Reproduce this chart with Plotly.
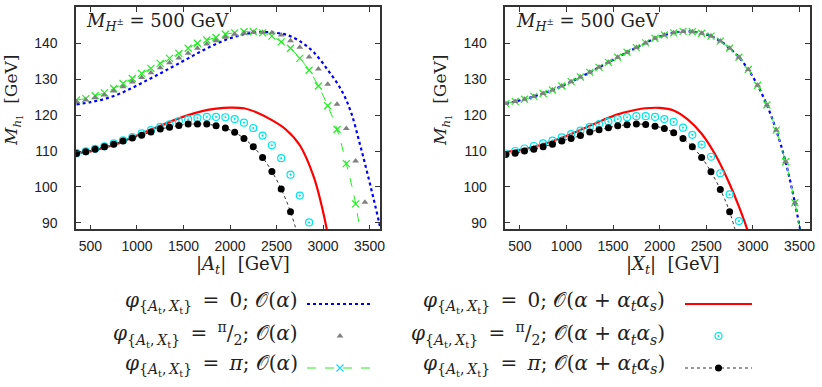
import plotly.graph_objects as go

# ---- data ----
# left panel: versus |A_t|
GRID_AT = [350, 450, 550, 650, 750, 850, 950, 1050, 1150, 1250, 1350, 1450, 1550, 1650, 1750, 1850,
           1950, 2050, 2150, 2250, 2350, 2450, 2550, 2650, 2750, 2850, 2950, 3050, 3150, 3250, 3350, 3450]

at_pi_oa = [124.2, 124.6, 125.4, 126.2, 127.4, 128.8, 130.2, 131.6, 133.0, 134.4, 135.8, 137.2, 138.6, 140.0,
            140.9, 141.6, 142.5, 142.9, 143.2, 143.2, 142.9, 142.0, 140.4, 138.6, 135.8, 132.5, 128.1, 122.6,
            116.0, 106.5, 95.3, 78.0]
at_half_oa = [123.7, 124.2, 124.8, 125.6, 126.7, 127.9, 129.2, 130.5, 131.8, 133.2, 134.6, 135.9, 137.2, 138.6,
              139.8, 140.7, 141.7, 142.5, 142.8, 143.1, 143.1, 142.9, 142.3, 140.7, 138.9, 136.2, 132.8, 128.6,
              123.0, 116.3, 107.2, 95.7]
at_half_full = [109.4, 109.9, 110.6, 111.3, 112.1, 113.0, 113.9, 114.9, 115.8, 116.7, 117.4, 118.3, 118.8, 119.2,
                119.5, 119.5, 119.4, 118.9, 117.9, 116.4, 114.3, 111.6, 108.0, 103.4, 97.6, 90.1]
at_pi_full = [109.3, 109.8, 110.5, 111.2, 111.9, 112.8, 113.6, 114.4, 115.3, 116.1, 116.6, 117.1, 117.5, 117.5,
              117.5, 117.0, 116.4, 115.2, 113.5, 111.2, 108.2, 104.3, 99.4, 93.1, 84.5]

at_zero_x = [350, 500, 650, 800, 950, 1100, 1250, 1400, 1550, 1700, 1850, 2000, 2150, 2300, 2450, 2600,
             2750, 2900, 3050, 3200, 3300, 3400, 3500, 3600, 3700]
at_zero_oa = [123.0, 123.6, 124.5, 125.8, 127.6, 129.6, 131.6, 133.7, 135.8, 137.9, 139.8, 141.4, 142.5, 143.1,
              143.0, 142.4, 140.6, 137.5, 132.6, 126.8, 120.8, 111.5, 101.3, 90.3, 78.0]
at_zero_full_x = [350, 500, 650, 800, 950, 1100, 1250, 1400, 1550, 1700, 1850, 2000, 2150, 2300, 2450, 2600,
                  2750, 2900, 3000, 3100]
at_zero_full = [109.4, 109.9, 110.9, 112.1, 113.8, 115.4, 117.0, 118.6, 120.0, 121.1, 121.8, 122.1, 121.9, 120.6,
                118.6, 116.0, 111.6, 102.8, 93.1, 80.0]

# right panel: versus |X_t|
GRID_XT = GRID_AT + [3550]
xt_upper = [123.2, 123.8, 124.4, 125.2, 126.0, 127.0, 128.1, 129.3, 130.6, 131.9, 133.3, 134.7, 136.1, 137.5,
            138.8, 140.1, 141.4, 142.3, 142.9, 143.3, 143.2, 142.8, 142.0, 140.6, 138.6, 136.1, 132.7, 128.3,
            122.8, 115.8, 107.0, 95.6, 82.0]
xt_half_full = [109.3, 110.0, 110.7, 111.4, 112.1, 112.9, 113.8, 114.7, 115.7, 116.7, 117.5, 118.2, 118.9, 119.4,
                119.7, 119.7, 119.5, 118.9, 118.1, 116.5, 114.5, 111.8, 108.4, 103.8, 97.9, 90.5]
xt_pi_full = [109.0, 109.4, 110.0, 110.5, 111.2, 111.9, 112.8, 113.5, 114.3, 115.3, 115.9, 116.5, 117.0, 117.3,
              117.5, 117.4, 116.9, 116.3, 115.1, 113.5, 111.2, 108.2, 104.2, 99.3, 93.1, 84.0]
xt_zero_full_x = [350, 500, 650, 800, 950, 1100, 1250, 1400, 1550, 1700, 1850, 2000, 2150, 2300, 2450, 2600,
                  2750, 2850, 2950, 3050]
xt_zero_full = [109.7, 110.3, 111.2, 112.3, 113.7, 115.3, 117.0, 118.7, 120.2, 121.2, 121.9, 122.0, 121.3, 118.8,
                114.8, 108.8, 100.8, 94.5, 87.2, 76.0]

Y_TICKS = [90, 100, 110, 120, 130, 140, 150]
X_TICKS = [500, 1000, 1500, 2000, 2500, 3000, 3500]

SP = "\u2009"
PHI = "<i>φ</i><sub>{<i>A</i><sub>t</sub>," + SP + "<i>X</i><sub>t</sub>}</sub>"
EQ = SP + " = " + SP
ORD_FULL = "𝒪(<i>α</i> + <i>α</i><sub><i>t</i></sub><i>α</i><sub><i>s</i></sub>)"
HALF = "<sup>π</sup>/<sub>2</sub>"
LEGEND_LEFT = [PHI + EQ + "0; 𝒪(<i>α</i>)", PHI + EQ + HALF + "; 𝒪(<i>α</i>)", PHI + EQ + "<i>π</i>; 𝒪(<i>α</i>)"]
LEGEND_RIGHT = [PHI + EQ + "0; " + ORD_FULL, PHI + EQ + HALF + "; " + ORD_FULL, PHI + EQ + "<i>π</i>; " + ORD_FULL]

BLUE = dict(color="#0000ff", width=2.2, dash="dot")
GREEN = dict(color="#22ee22", width=1, dash="dash")
RED = dict(color="#ff0000", width=2.2)
BLACK = dict(color="#333333", width=1, dash="dot")
TRI = dict(symbol="triangle-up", size=6, color="#808080")
CROSS = dict(symbol="x-thin-open", size=7, line=dict(color="#22ee22", width=1.2))
RING = dict(symbol="circle-open-dot", size=7, color="#00e5ee", line=dict(width=1.2))
DOT = dict(symbol="circle", size=7, color="#000000")

fig = go.Figure()


def add_panel(xa, ya, upper_blue, upper_green, upper_tri, red, cyan, black):
    bx, by = upper_blue
    fig.add_trace(go.Scatter(x=bx, y=by, mode="lines", line=BLUE, line_shape="spline", xaxis=xa, yaxis=ya))
    gx, gy = upper_green
    fig.add_trace(go.Scatter(x=gx, y=gy, mode="lines+markers", line=GREEN, marker=CROSS, line_shape="spline",
                             xaxis=xa, yaxis=ya))
    tx, ty = upper_tri
    fig.add_trace(go.Scatter(x=tx, y=ty, mode="markers", marker=TRI, xaxis=xa, yaxis=ya))
    rx, ry = red
    fig.add_trace(go.Scatter(x=rx, y=ry, mode="lines", line=RED, line_shape="spline", xaxis=xa, yaxis=ya))
    cx, cy = cyan
    fig.add_trace(go.Scatter(x=cx, y=cy, mode="markers", marker=RING, xaxis=xa, yaxis=ya))
    kx, ky = black
    fig.add_trace(go.Scatter(x=kx, y=ky, mode="lines+markers", line=BLACK, marker=DOT, line_shape="spline",
                             xaxis=xa, yaxis=ya))


add_panel("x", "y",
          (at_zero_x, at_zero_oa), (GRID_AT, at_pi_oa), (GRID_AT, at_half_oa),
          (at_zero_full_x, at_zero_full), (GRID_AT[:len(at_half_full)], at_half_full),
          (GRID_AT[:len(at_pi_full)], at_pi_full))
add_panel("x2", "y2",
          (GRID_XT, xt_upper), (GRID_XT, xt_upper), (GRID_XT, xt_upper),
          (xt_zero_full_x, xt_zero_full), (GRID_XT[:len(xt_half_full)], xt_half_full),
          (GRID_XT[:len(xt_pi_full)], xt_pi_full))

# legend keys on a hidden pixel-sized axis: (x0, x1, y, line style, marker style)
keys = [
    (307, 373, 304, BLUE, None),
    (307, 373, 336, None, TRI),
    (307, 373, 368, GREEN, CROSS),
    (685, 752, 304, RED, None),
    (685, 752, 336, None, RING),
    (685, 752, 368, BLACK, DOT),
]
for x0, x1, yy, lstyle, mstyle in keys:
    if lstyle:
        fig.add_trace(go.Scatter(x=[x0, x1], y=[yy, yy], mode="lines", line=lstyle, xaxis="x3", yaxis="y3"))
    if mstyle:
        fig.add_trace(go.Scatter(x=[(x0 + x1) / 2], y=[yy], mode="markers", marker=mstyle,
                                 xaxis="x3", yaxis="y3"))

TICKFONT = dict(family="Liberation Sans, Arial, sans-serif", size=14, color="#222222")
SERIF = "DejaVu Serif, serif"


def xstyle(domain, anchor):
    return dict(domain=domain, range=[345, 3612], tickvals=X_TICKS, ticks="inside", ticklen=5,
                tickcolor="#333333", mirror="allticks", showline=True, linecolor="#333333", linewidth=1.5,
                showgrid=False, zeroline=False, tickfont=TICKFONT, anchor=anchor, automargin=False,
                ticklabelstandoff=3)


def ystyle(anchor):
    return dict(domain=[0.4075, 0.981], range=[88.2, 150], tickvals=Y_TICKS, ticks="inside", ticklen=5,
                tickcolor="#333333", mirror="allticks", showline=True, linecolor="#333333", linewidth=1.5,
                showgrid=False, zeroline=False, tickfont=TICKFONT, anchor=anchor, automargin=False,
                ticklabelstandoff=14)


fig.update_layout(
    width=822, height=387, margin=dict(l=0, r=0, t=0, b=0),
    paper_bgcolor="white", plot_bgcolor="rgba(0,0,0,0)", showlegend=False,
    xaxis=xstyle([0.0925, 0.4623], "y"),
    yaxis=ystyle("x"),
    xaxis2=xstyle([0.6148, 0.9854], "y2"),
    yaxis2=ystyle("x2"),
    xaxis3=dict(domain=[0, 1], range=[0, 822], visible=False, anchor="y3", automargin=False),
    yaxis3=dict(domain=[0, 1], range=[387, 0], visible=False, anchor="x3", automargin=False),
)

ann = []
for xc, lab in [(243, "|<i>A<sub>t</sub></i>|  [GeV]"), (673, "|<i>X<sub>t</sub></i>|  [GeV]")]:
    ann.append(dict(x=xc / 822, y=1 - 265 / 387, xref="paper", yref="paper", text=lab, showarrow=False,
                    font=dict(family=SERIF, size=18, color="#222222"), xanchor="center", yanchor="middle"))
for xc in [13, 442]:
    ann.append(dict(x=xc / 822, y=1 - 101 / 387, xref="paper", yref="paper", textangle=-90,
                    text="<i>M</i><sub><i>h</i><sub>1</sub></sub>  [GeV]", showarrow=False,
                    font=dict(family=SERIF, size=17, color="#222222"), xanchor="center", yanchor="middle"))
for xl in [84, 514]:
    ann.append(dict(x=xl / 822, y=1 - 22 / 387, xref="paper", yref="paper", xanchor="left", yanchor="middle",
                    text="<i>M</i><sub><i>H</i><sup>±</sup></sub> = 500 GeV", showarrow=False,
                    font=dict(family=SERIF, size=18, color="#222222")))
for col_x, labels in [(300, LEGEND_LEFT), (667, LEGEND_RIGHT)]:
    for yy, lab in zip([302, 334, 365], labels):
        ann.append(dict(x=col_x / 822, y=1 - yy / 387, xref="paper", yref="paper", xanchor="right",
                        yanchor="middle", text=lab, showarrow=False,
                        font=dict(family=SERIF, size=20, color="#222222")))
fig.update_layout(annotations=ann)

# the page body has a default 8px margin; drop it so the figure sits at the window origin
fig.write_html("out.html", config={"displayModeBar": False},
               post_script="document.body.style.margin='0px';")
